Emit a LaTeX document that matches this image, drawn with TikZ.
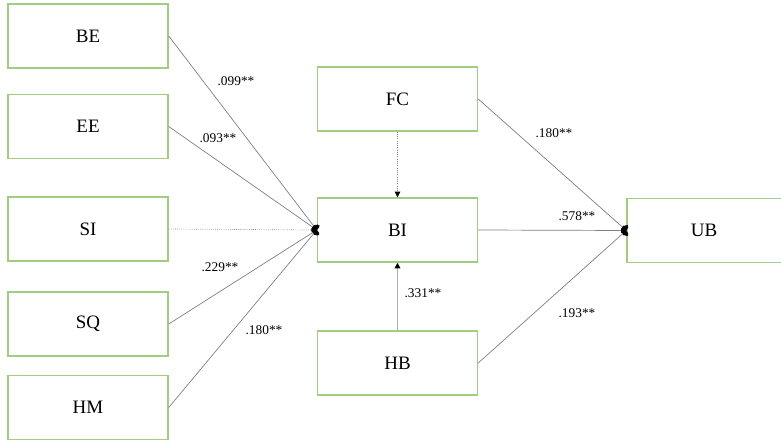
\documentclass[tikz,border=0pt]{standalone}
\usepackage{fontspec}
\setmainfont{Liberation Serif}
\usepackage{tikz}
\usetikzlibrary{arrows.meta}
\definecolor{boxgreen}{RGB}{160,206,126}
\definecolor{linegray}{RGB}{128,128,128}
\definecolor{arrgray}{RGB}{172,172,172}
\tikzset{
    construct/.style = {rectangle, draw=boxgreen, line width=1pt, minimum width=4cm, minimum height=1.6cm, inner sep=0pt, font=\fontsize{13.5}{15}\selectfont},
    weight/.style = {inner sep=0pt, font=\fontsize{9.5}{11}\selectfont},
    edgeo/.style = {-{Ellipse[length=3.2pt,width=7pt,color=black]},linegray,line width=0.5pt}, % into a construct
    edgeod/.style = {-{Ellipse[length=3.2pt,width=7pt,color=black]},linegray,line width=0.5pt,densely dotted}, % not significant
    edget/.style = {-{Triangle[length=4pt,width=4pt,color=black]},arrgray,line width=1.2pt},
    edgetd/.style = {-{Triangle[length=4pt,width=4pt,color=black]},linegray,line width=0.6pt,densely dotted}
}

\begin{document}
\begin{tikzpicture}[x=0.025cm,y=-0.025cm]
\useasboundingbox (0,0) rectangle (781,440);
\node[construct] at (88,36) (BE) {BE};
\node[construct] at (88,126.5) (EE) {EE};
\node[construct] at (88,229) (SI) {SI};
\node[construct] at (88,324) (SQ) {SQ};
\node[construct] at (88,407.5) (HM) {HM};
\node[construct] at (397.5,99) (FC) {FC};
\node[construct] at (397.5,230) (BI) {BI};
\node[construct] at (397.5,363) (HB) {HB};
\node[construct] at (707,230.5) (UB) {};
\node[font=\fontsize{13.5}{15}\selectfont] at (704,230.5) (UBt) {UB};
%
\draw[edgeo] (BE.east) -- (BI.west);
\draw[edgeo] (EE.east) -- (BI.west);
\draw[edgeod] (SI.east) -- (BI.west);
\draw[edgeo] (SQ.east) -- (BI.west);
\draw[edgeo] (HM.east) -- (BI.west);
\draw[edgetd] (FC.south) -- (BI.north);
\draw[edget] (HB.north) -- (BI.south);
\draw[edgeo] (FC.east) -- (UB.west);
\draw[edgeo] (BI.east) -- (UB.west);
\draw[edgeo] (HB.east) -- (UB.west);
%
\node[weight] at (236,81) (wBE) {.099**};
\node[weight] at (218,138) (wEE) {.093**};
\node[weight] at (220,267) (wSQ) {.229**};
\node[weight] at (264,330) (wHM) {.180**};
\node[weight] at (554,133) (wFC) {.180**};
\node[weight] at (577,216) (wBI) {.578**};
\node[weight] at (577,313) (wHB) {.193**};
\node[weight] at (423,293) (wHBBI) {.331**};
\end{tikzpicture}
\end{document}
